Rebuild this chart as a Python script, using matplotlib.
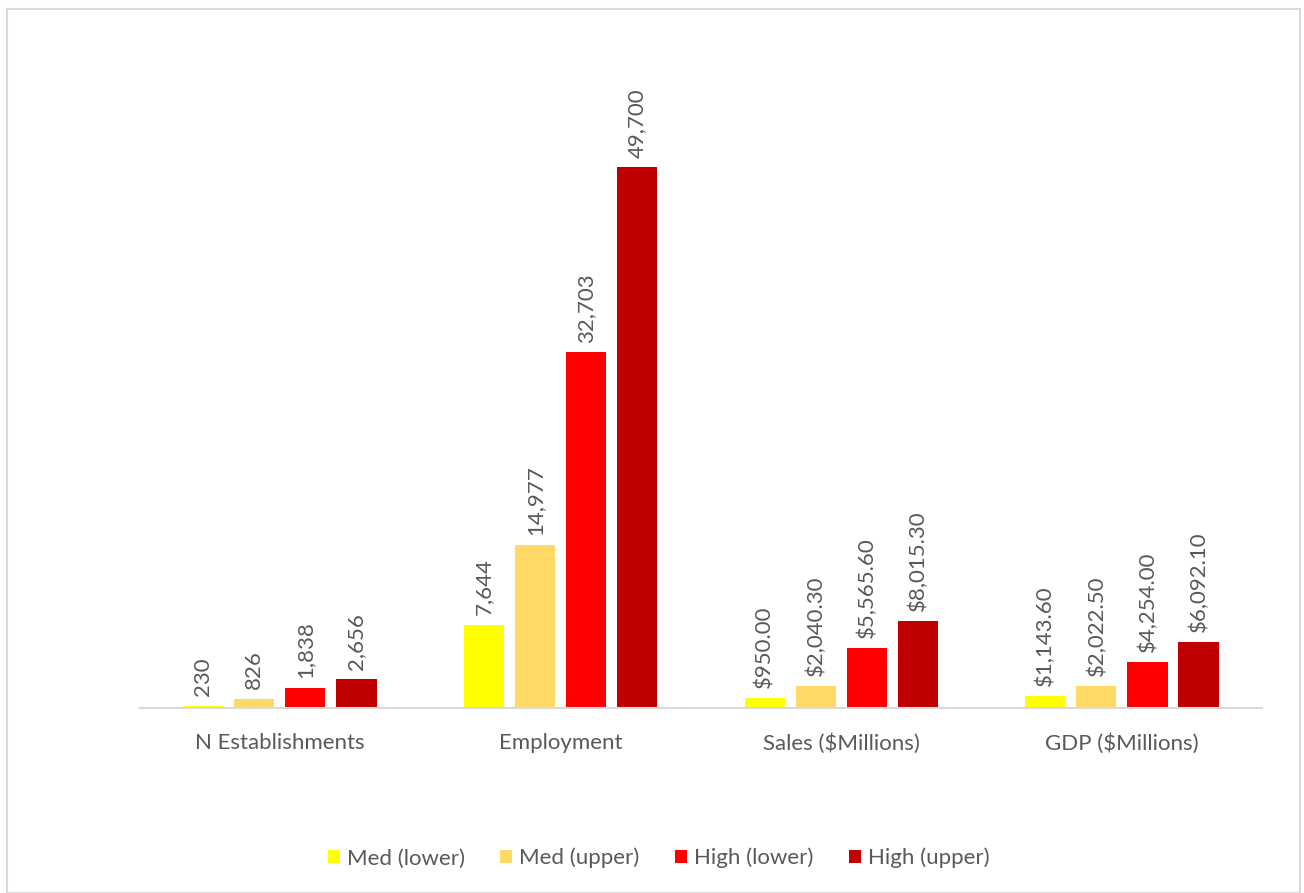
import matplotlib.pyplot as plt
import matplotlib.patches as mpatches
import numpy as np

plt.rcParams['font.family'] = ['Lato', 'DejaVu Sans']

categories = ['N Establishments', 'Employment', 'Sales ($Millions)', 'GDP ($Millions)']
series_names = ['Med (lower)', 'Med (upper)', 'High (lower)', 'High (upper)']
med_lower = [230, 7644, 950.00, 1143.60]
med_upper = [826, 14977, 2040.30, 2022.50]
high_lower = [1838, 32703, 5565.60, 4254.00]
high_upper = [2656, 49700, 8015.30, 6092.10]
colors = ['#FFFF00', '#FFD966', '#FF0000', '#C00000']

series = [med_lower, med_upper, high_lower, high_upper]
money = [False, False, True, True]

fig = plt.figure(figsize=(13.04, 8.93), dpi=100)
ax = fig.add_axes([0.107, 0.207, 0.861, 0.731])

x = np.arange(len(categories))
offsets = [-0.273, -0.091, 0.091, 0.273]
width = 0.143
txt = '#595959'
fs = 16

for i, vals in enumerate(series):
    bars = ax.bar(x + offsets[i], vals, width, color=colors[i], label=series_names[i])
    for j, b in enumerate(bars):
        v = vals[j]
        lab = '${:,.2f}'.format(v) if money[j] else '{:,.0f}'.format(v)
        ax.annotate(lab, (b.get_x() + b.get_width() / 2, b.get_height()),
                    xytext=(0, 7), textcoords='offset points',
                    rotation=90, ha='center', va='bottom', fontsize=fs, color=txt)

ax.set_xlim(-0.5, 3.5)
ax.set_ylim(0, 60000)
ax.set_xticks(x)
ax.set_xticklabels(categories, fontsize=fs, color=txt)
ax.tick_params(axis='x', length=0, pad=18)
ax.set_yticks([])
for s in ['top', 'right', 'left']:
    ax.spines[s].set_visible(False)
ax.spines['bottom'].set_color('#D9D9D9')
ax.spines['bottom'].set_linewidth(1.5)

leg = fig.legend(loc='center', bbox_to_anchor=(0.505, 0.039), ncol=4, frameon=False,
                 fontsize=fs, handlelength=0.55, handleheight=0.55, handletextpad=0.3,
                 columnspacing=1.6)
for t in leg.get_texts():
    t.set_color(txt)

fig.patches.append(mpatches.Rectangle((7 / 1304, 0), 1293 / 1304, 1 - 9 / 893,
                                      transform=fig.transFigure, fill=False,
                                      edgecolor='#D9D9D9', linewidth=1.5))

fig.savefig('out.png', dpi=100)
